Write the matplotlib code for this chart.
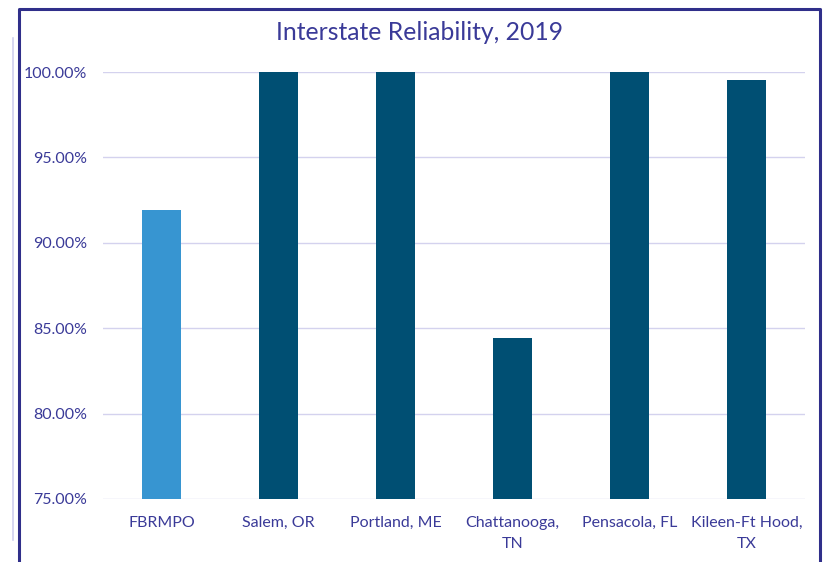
import matplotlib.pyplot as plt
from matplotlib.lines import Line2D
from matplotlib.ticker import FuncFormatter

areas = ["FBRMPO", "Salem, OR", "Portland, ME", "Chattanooga,\nTN",
         "Pensacola, FL", "Kileen-Ft Hood,\nTX"]
reliability = [91.92, 100.0, 100.0, 84.45, 100.0, 99.52]
bar_colors = ["#3795d1", "#004f73", "#004f73", "#004f73", "#004f73", "#004f73"]
y_ticks = [75, 80, 85, 90, 95, 100]

text_color = "#3a3a98"
grid_color = "#d4d2ee"

plt.rcParams['font.family'] = ['Lato', 'DejaVu Sans']

W, H = 823, 562
fig = plt.figure(figsize=(W / 100, H / 100), dpi=100)
fig.patch.set_facecolor("white")

# plot area in pixel terms: left 103, right 805, top 72, bottom 499
ax = fig.add_axes([103 / W, 1 - 499 / H, (805 - 103) / W, (499 - 72) / H])
x = range(len(areas))
ax.bar(x, [v - 75 for v in reliability], bottom=75, width=0.33,
       color=bar_colors, zorder=3)
ax.set_xlim(-0.5, len(areas) - 0.5)
ax.set_ylim(75, 100)
ax.set_yticks(y_ticks)
ax.yaxis.set_major_formatter(FuncFormatter(lambda v, p: f"{v:.2f}%"))
ax.set_xticks(list(x))
ax.set_xticklabels(areas)
ax.grid(axis="y", color=grid_color, linewidth=1, zorder=0)
for s in ax.spines.values():
    s.set_visible(False)
ax.tick_params(length=0, colors=text_color, labelsize=11.5)
ax.tick_params(axis="y", pad=11.5)
ax.tick_params(axis="x", pad=12)
for lbl in ax.get_xticklabels():
    lbl.set_linespacing(1.65)

fig.text(419 / W, 1 - 32 / H, "Interstate Reliability, 2019",
         ha="center", va="center", fontsize=17.8, color=text_color)

# outer frame: dark border open at the bottom, thin pale line on the left
def px(xp, yp):
    return xp / W, 1 - yp / H

fx, fy = zip(px(19, H + 5), px(19, 9), px(820, 9), px(820, H + 5))
fig.add_artist(Line2D(fx, fy, transform=fig.transFigure,
                      color="#302f8a", linewidth=2.2))
lx, ly = zip(px(12.5, 38), px(12.5, 540))
fig.add_artist(Line2D(lx, ly, transform=fig.transFigure,
                      color="#d0d0ee", linewidth=1.2))

fig.savefig("out.png", dpi=100)
